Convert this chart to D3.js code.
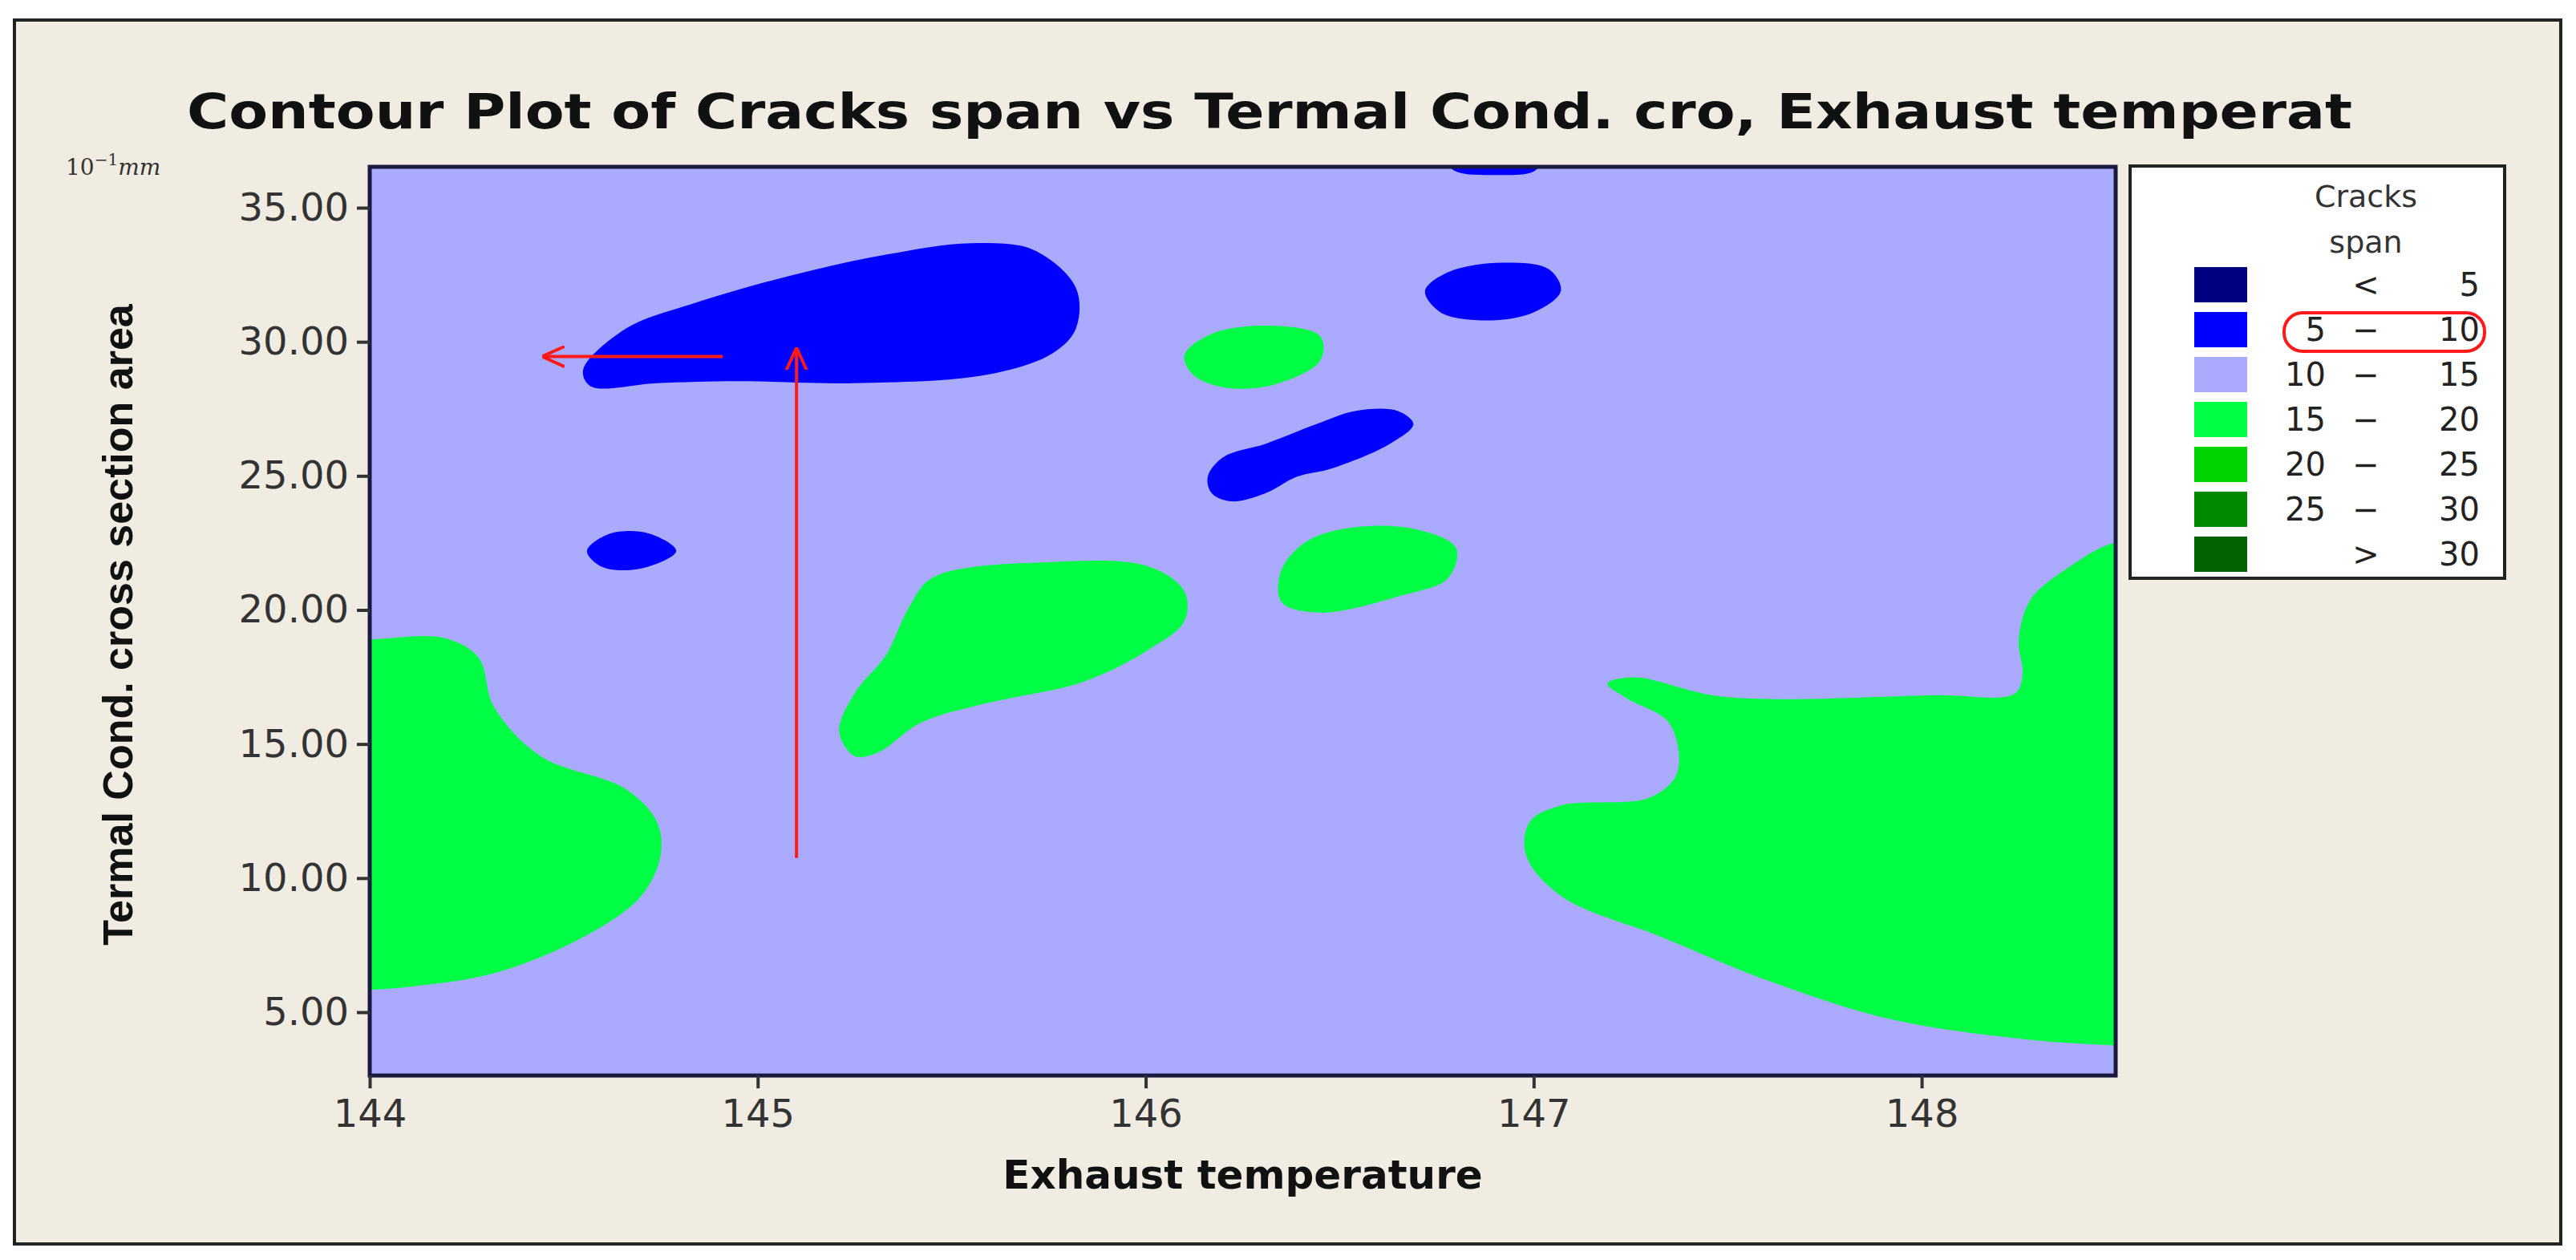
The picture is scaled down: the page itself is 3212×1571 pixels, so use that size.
<!DOCTYPE html>
<html><head><meta charset="utf-8">
<script src="https://cdn.jsdelivr.net/npm/d3@7"></script>
<style>body{margin:0;background:#fff}</style></head>
<body><svg id="c" width="3212" height="1571"></svg>
<script>
const xTicks=[144,145,146,147,148];
const yTicks=[5,10,15,20,25,30,35];
const legendLabels=[["","<","5"],["5","\u2212","10"],["10","\u2212","15"],["15","\u2212","20"],["20","\u2212","25"],["25","\u2212","30"],["",">","30"]];
const legendColors=["#000080","#0000ff","#aaaaff","#00ff44","#00d400","#008a00","#006200"];
// contour regions [x,y] in data units; level index into legendColors
const blobMain=[[144.55,28.95],[144.66,30.49],[144.83,31.41],[145.08,32.45],[145.33,33.25],[145.55,33.68],[145.71,33.43],[145.82,32.02],[145.82,30.49],[145.76,29.57],[145.59,28.77],[145.25,28.46],[144.95,28.53],[144.74,28.46],[144.57,28.34]];
const blobSmall=[[144.56,22.2],[144.62,22.85],[144.72,22.85],[144.79,22.2],[144.7,21.55],[144.6,21.6]];
const blobTop=[[146.77,36.8],[146.8,36.35],[146.9,36.22],[147.0,36.35],[147.02,36.8]];
const blobRight=[[146.72,31.9],[146.78,32.6],[146.92,32.95],[147.04,32.7],[147.07,31.9],[147.0,31.1],[146.88,30.8],[146.76,31.1]];
const blobDiag=[[146.16,24.97],[146.2,25.7],[146.31,26.2],[146.44,26.93],[146.54,27.42],[146.65,27.42],[146.69,26.93],[146.63,26.2],[146.48,25.28],[146.39,24.97],[146.31,24.36],[146.22,24.05],[146.17,24.36]];
const greenTop=[[146.1,29.5],[146.17,30.3],[146.32,30.6],[146.45,30.2],[146.45,29.3],[146.33,28.4],[146.2,28.3],[146.12,28.8]];
const greenMid=[[146.35,21.5],[146.42,22.6],[146.55,23.1],[146.7,23.0],[146.8,22.3],[146.78,21.2],[146.65,20.5],[146.45,19.9],[146.35,20.3]];
const greenCenter=[[145.45,21.2],[145.76,21.79],[146.01,21.61],[146.1,20.69],[146.1,19.59],[146.01,18.54],[145.84,17.32],[145.59,16.52],[145.42,15.79],[145.31,14.68],[145.25,14.55],[145.21,15.47],[145.25,16.9],[145.33,18.3],[145.39,20.1]];
const greenLeft=[[143.8,18.84],[144.0,18.9],[144.19,18.96],[144.28,18.23],[144.32,16.39],[144.44,14.55],[144.66,13.32],[144.74,12.1],[144.75,10.87],[144.7,9.34],[144.55,7.8],[144.32,6.45],[144.11,5.96],[144.0,5.84],[143.8,5.8]];
const greenRight=[[148.7,22.6],[148.5,22.52],[148.38,21.6],[148.28,20.37],[148.25,18.84],[148.26,17.61],[148.24,16.88],[148.04,16.82],[147.49,16.76],[147.26,17.49],[147.19,17.25],[147.24,16.7],[147.35,15.77],[147.37,13.93],[147.3,13.01],[147.07,12.71],[146.99,12.1],[146.98,10.87],[147.07,9.34],[147.33,7.8],[147.62,6.09],[147.92,4.74],[148.26,4.0],[148.5,3.76],[148.7,3.7],[148.8,2.0],[148.8,23]];
const regions=[
 {pts:greenLeft,level:3},{pts:greenRight,level:3},{pts:greenCenter,level:3},{pts:greenMid,level:3},{pts:greenTop,level:3},
 {pts:blobMain,level:1},{pts:blobSmall,level:1},{pts:blobTop,level:1},{pts:blobRight,level:1},{pts:blobDiag,level:1}];
const arrows=[[[145.1,10.75],[145.1,29.7]],[[144.91,29.45],[144.45,29.45]]];

const svg=d3.select("#c");
svg.append("rect").attr("x",18).attr("y",25).attr("width",3175).attr("height",1526).attr("fill","#f1ece1").attr("stroke","#222").attr("stroke-width",4);
const L=461,R=2638,T=208,B=1341;
const x=d3.scaleLinear().domain([144,148.5]).range([L,R]);
const y=d3.scaleLinear().domain([5,35]).range([1262,259]);
svg.append("defs").append("clipPath").attr("id","pc").append("rect").attr("x",L).attr("y",T).attr("width",R-L).attr("height",B-T);
const g=svg.append("g").attr("clip-path","url(#pc)");
g.append("rect").attr("x",L).attr("y",T).attr("width",R-L).attr("height",B-T).attr("fill",legendColors[2]);
const line=d3.line().x(d=>x(d[0])).y(d=>y(d[1])).curve(d3.curveCatmullRomClosed.alpha(0.5));
regions.forEach(r=>g.append("path").attr("d",line(r.pts)).attr("fill",legendColors[r.level]));
svg.append("rect").attr("x",L).attr("y",T).attr("width",R-L).attr("height",B-T).attr("fill","none").attr("stroke","#1a1a40").attr("stroke-width",5);

const xa=svg.append("g").attr("transform",`translate(0,${B})`).call(d3.axisBottom(x).tickValues(xTicks).tickSize(16).tickPadding(14).tickFormat(d3.format("d")));
const ya=svg.append("g").attr("transform",`translate(${L},0)`).call(d3.axisLeft(y).tickValues(yTicks).tickSize(16).tickPadding(10).tickFormat(d3.format(".2f")));
[xa,ya].forEach(a=>{a.select(".domain").remove();a.selectAll("line").attr("stroke","#333").attr("stroke-width",4);a.selectAll("text").attr("font-family","DejaVu Sans").attr("font-size",48).attr("fill","#333");});

svg.append("text").attr("x",1583).attr("y",160).attr("text-anchor","middle").attr("font-family","DejaVu Sans").attr("font-weight","bold").attr("font-size",60).attr("textLength",2700).attr("lengthAdjust","spacingAndGlyphs").attr("fill","#111").text("Contour Plot of Cracks span vs Termal Cond. cro, Exhaust temperat");
svg.append("text").attr("x",(L+R)/2).attr("y",1482).attr("text-anchor","middle").attr("font-family","DejaVu Sans").attr("font-weight","bold").attr("font-size",50).attr("fill","#111").text("Exhaust temperature");
svg.append("text").attr("transform","translate(165,779) rotate(-90)").attr("text-anchor","middle").attr("font-family","Liberation Sans Narrow, Liberation Sans").attr("font-weight","bold").attr("font-size",52).attr("fill","#111").text("Termal Cond. cross section area");
const u=svg.append("text").attr("x",82).attr("y",218).attr("font-family","DejaVu Serif").attr("font-size",28).attr("fill","#333");
u.append("tspan").text("10");u.append("tspan").attr("dy",-12).attr("font-size",20).text("\u22121");u.append("tspan").attr("dy",12).attr("font-style","italic").text("mm");

// arrows
const defs=svg.select("defs");
defs.append("marker").attr("id","ah").attr("viewBox","0 0 10 10").attr("refX",9).attr("refY",5).attr("markerWidth",7).attr("markerHeight",7).attr("orient","auto").append("path").attr("d","M0,0.5 L10,5 L0,9.5").attr("fill","none").attr("stroke","#ff1a1a").attr("stroke-width",1.4);
arrows.forEach(a=>svg.append("line").attr("x1",x(a[0][0])).attr("y1",y(a[0][1])).attr("x2",x(a[1][0])).attr("y2",y(a[1][1])).attr("stroke","#ff1a1a").attr("stroke-width",4).attr("marker-end","url(#ah)"));

// legend
const lg=svg.append("g");
lg.append("rect").attr("x",2656).attr("y",207).attr("width",467).attr("height",514).attr("fill","#fff").attr("stroke","#222").attr("stroke-width",4);
lg.append("text").attr("x",2950).attr("y",258).attr("text-anchor","middle").attr("font-family","DejaVu Sans").attr("font-size",38).attr("fill","#333").text("Cracks");
lg.append("text").attr("x",2950).attr("y",315).attr("text-anchor","middle").attr("font-family","DejaVu Sans").attr("font-size",38).attr("fill","#333").text("span");
legendLabels.forEach((lb,i)=>{
 const cy=355+i*56;
 lg.append("rect").attr("x",2736).attr("y",cy-22).attr("width",66).attr("height",44).attr("fill",legendColors[i]);
 const t=(xx,anchor,s)=>lg.append("text").attr("x",xx).attr("y",cy+14).attr("text-anchor",anchor).attr("font-family","DejaVu Sans").attr("font-size",40).attr("fill","#222").text(s);
 t(2900,"end",lb[0]);t(2950,"middle",lb[1]);t(3092,"end",lb[2]);
});
lg.append("rect").attr("x",2848).attr("y",390).attr("width",250).attr("height",48).attr("rx",23).attr("fill","none").attr("stroke","#ff1a1a").attr("stroke-width",4);
</script></body></html>
